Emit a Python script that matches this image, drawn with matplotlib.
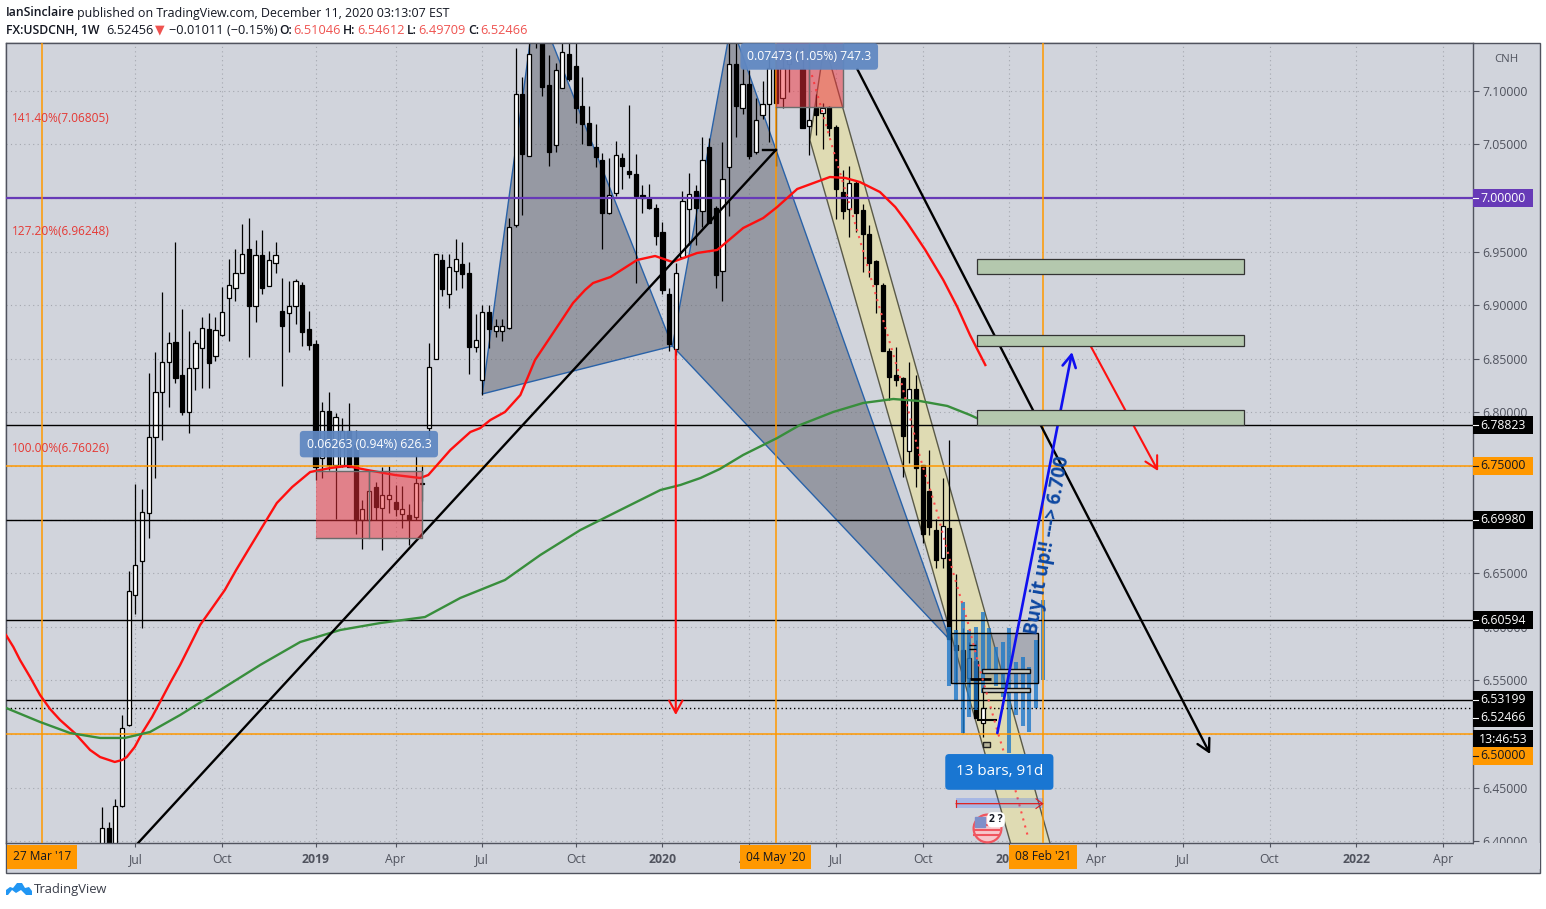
import numpy as np
import matplotlib
matplotlib.use("Agg")
import matplotlib.pyplot as plt
from matplotlib.patches import Rectangle, Polygon
from matplotlib.transforms import blended_transform_factory

plt.rcParams["font.family"] = "Open Sans"

# weekly candles, first one is week 9
first_week = 9
opens = [6.390,6.412,6.390,6.433,6.508,6.630,6.661,6.706,6.777,6.819,
         6.847,6.866,6.835,6.800,6.841,6.860,6.878,6.853,6.872,6.907,
         6.916,6.930,6.952,6.899,6.947,6.918,6.939,6.895,6.893,6.899,
         6.919,6.878,6.864,6.757,6.801,6.751,6.751,6.783,6.770,6.700,
         6.700,6.730,6.711,6.719,6.716,6.705,6.704,6.702,6.734,6.785,
         6.850,6.942,6.910,6.932,6.938,6.930,6.861,6.830,6.894,6.876,
         6.876,6.879,6.975,7.097,7.039,7.190,7.160,7.105,7.049,7.103,
         7.134,7.123,7.086,7.070,7.048,7.035,6.986,7.005,7.037,7.025,
         7.022,7.003,7.000,6.991,6.968,6.910,6.859,6.945,6.990,7.007,
         6.988,7.048,6.991,6.932,7.029,7.125,7.084,7.106,7.043,7.077,
         7.088,7.120,7.093,7.125,7.135,7.120,7.067,7.084,7.079,7.085,
         7.066,7.006,6.990,7.014,6.989,6.966,6.941,6.919,6.857,6.835,
         6.832,6.764,6.822,6.751,6.727,6.690,6.664,6.692,6.583,6.578,
         6.5525,6.568,6.51046]
highs = [6.432,6.418,6.439,6.518,6.652,6.733,6.729,6.837,6.856,6.912,
         6.875,6.959,6.896,6.876,6.868,6.889,6.893,6.889,6.917,6.943,
         6.952,6.976,6.981,6.961,6.970,6.951,6.959,6.925,6.923,6.924,
         6.922,6.895,6.868,6.810,6.819,6.799,6.795,6.809,6.784,6.718,
         6.746,6.735,6.749,6.750,6.732,6.731,6.715,6.760,6.751,6.865,
         6.948,6.948,6.948,6.962,6.959,6.940,6.892,6.900,6.900,6.887,
         6.887,6.981,7.140,7.113,7.160,7.200,7.180,7.133,7.126,7.155,
         7.155,7.155,7.113,7.086,7.069,7.042,7.037,7.053,7.042,7.087,
         7.041,7.012,7.013,6.994,6.978,6.916,6.939,7.007,7.023,7.012,
         7.057,7.056,6.993,7.052,7.155,7.155,7.121,7.119,7.093,7.109,
         7.135,7.140,7.140,7.140,7.140,7.140,7.130,7.097,7.089,7.086,
         7.068,7.026,7.030,7.017,6.994,6.975,6.942,6.921,6.860,6.861,
         6.833,6.847,6.835,6.751,6.765,6.701,6.739,6.774,6.649,6.599,
         6.586,6.588,6.54612]
lows = [6.390,6.390,6.390,6.432,6.507,6.612,6.599,6.683,6.739,6.774,
        6.805,6.827,6.798,6.781,6.821,6.823,6.823,6.848,6.871,6.867,
        6.904,6.930,6.852,6.884,6.910,6.918,6.930,6.825,6.856,6.882,
        6.862,6.858,6.737,6.739,6.746,6.701,6.749,6.749,6.687,6.673,
        6.700,6.700,6.672,6.706,6.703,6.692,6.676,6.700,6.717,6.770,
        6.850,6.909,6.897,6.914,6.916,6.836,6.856,6.816,6.860,6.870,
        6.867,6.878,6.973,6.984,7.039,7.140,7.095,7.030,7.043,7.103,
        7.109,7.070,7.050,7.049,7.029,6.952,6.985,7.002,7.008,7.019,
        6.921,6.986,6.990,6.956,6.910,6.857,6.854,6.945,6.956,6.956,
        6.973,6.977,6.916,6.904,6.983,7.057,7.078,7.036,7.041,7.074,
        7.052,7.030,7.084,7.099,7.130,7.065,7.040,7.059,7.046,7.058,
        6.980,6.980,6.964,6.968,6.931,6.926,6.893,6.857,6.812,6.825,
        6.740,6.753,6.730,6.678,6.686,6.655,6.655,6.589,6.547,6.501,
        6.544,6.515,6.49709]
closes = [6.412,6.390,6.433,6.506,6.633,6.658,6.707,6.777,6.819,6.847,
          6.865,6.832,6.800,6.841,6.865,6.879,6.846,6.877,6.894,6.919,
          6.930,6.948,6.899,6.947,6.916,6.942,6.947,6.881,6.899,6.923,
          6.875,6.863,6.749,6.801,6.751,6.796,6.783,6.749,6.700,6.710,
          6.727,6.712,6.723,6.723,6.710,6.710,6.701,6.734,6.7335,6.842,
          6.948,6.915,6.936,6.943,6.929,6.861,6.868,6.894,6.878,6.881,
          6.881,6.973,7.097,7.041,7.134,7.160,7.104,7.043,7.119,7.136,
          7.111,7.084,7.069,7.049,7.038,6.986,7.003,7.040,7.030,7.022,
          7.002,7.000,6.991,6.965,6.914,6.864,6.930,6.997,7.004,6.991,
          7.035,6.977,6.928,7.018,7.125,7.086,7.106,7.039,7.073,7.088,
          7.121,7.089,7.121,7.130,7.130,7.065,7.073,7.077,7.084,7.065,
          7.008,6.988,7.014,6.986,6.966,6.939,6.920,6.857,6.833,6.830,
          6.778,6.822,6.748,6.687,6.693,6.6625,6.694,6.589,6.578,6.549,
          6.571,6.515,6.52466]

# moving averages
red_x = [-5.4,-4.3,-3.3,-1.8,-0.3,1.2,2.7,4.9,7.2,8.7,10.9,12.0,12.7,13.9,15.1,16.5,17.7,19.2,20.7,22.2,23.7,25.5,
         27.4,29.1,30.9,33.0,35.2,37.5,40.2,43.2,45.7,48.7,52.9,56.7,57.9,61.2,64.2,65.7,67.2,69.4,71.7,73.9,75.9,
         77.7,79.6,81.4,82.6,85.2,89.2,91.9,94.5,98.2,101.2,105.1,108.1,110.2,113.2,118.1,120.4,122.6,125.6,127.9,
         129.7,132.4,135.1,137.2,139.1,141.4]
red_y = [6.5923,6.5812,6.5690,6.5532,6.5364,6.5233,6.5131,6.5009,6.4851,6.4785,6.4739,6.4757,6.4785,6.4879,6.5019,
         6.5159,6.5299,6.5476,6.5644,6.5830,6.6017,6.6175,6.6343,6.6530,6.6716,6.6931,6.7155,6.7304,6.7444,6.7481,
         6.7500,6.7463,6.7416,6.7388,6.7416,6.7649,6.7817,6.7854,6.7929,6.8004,6.8162,6.8489,6.8675,6.8843,6.9021,
         6.9142,6.9207,6.9263,6.9422,6.9459,6.9403,6.9487,6.9515,6.9720,6.9813,6.9916,7.0084,7.0196,7.0187,7.0149,
         7.0056,6.9916,6.9767,6.9515,6.9235,6.8983,6.8722,6.8442]
green_x = [-5.4,-0.3,4.2,8.7,12.4,16.2,20.7,26.7,32.7,38.7,44.7,50.7,57.4,62.7,69.4,74.7,80.7,86.7,92.7,95.7,98.7,
           101.6,105.1,110.2,113.6,118.6,123.1,127.6,131.6,135.7,139.1,141.4]
green_y = [6.5243,6.5112,6.5009,6.4963,6.4963,6.5019,6.5177,6.5410,6.5644,6.5858,6.5970,6.6035,6.6091,6.6269,6.6437,
           6.6670,6.6903,6.7090,6.7276,6.7323,6.7388,6.7472,6.7603,6.7761,6.7882,6.8004,6.8088,6.8125,6.8106,6.8060,
           6.7976,6.7910]
dots_x = [115.4,118.6,121.6,125.2,128.6,131.6,134.2,136.6,138.8,140.6,143.3,145.9,147.8]
dots_y = [7.1147,7.0448,6.9823,6.9049,6.8330,6.7584,6.7062,6.6502,6.6035,6.5597,6.5009,6.4478,6.4039]

# blue bars pattern
pattern_weeks = list(range(136, 151))
pattern_top = [6.6001,6.5970,6.6234,6.5970,6.6001,6.6141,6.5985,6.5808,6.5861,6.5985,6.5674,6.5721,6.5628,6.5877,6.6250]
pattern_bot = [6.5447,6.5317,6.5012,6.5155,6.5223,6.5379,6.5597,6.5447,6.5348,6.4819,6.5177,6.5077,6.5021,6.5239,6.5503]

tick_weeks = [14, 27, 41, 53, 66, 80, 93, 106, 119, 132, 145, 158, 171, 184, 197, 210]
tick_labels = ["Jul", "Oct", "2019", "Apr", "Jul", "Oct", "2020", "Apr", "Jul", "Oct", "2021", "Apr", "Jul", "Oct", "2022", "Apr"]
price_ticks = [6.40, 6.45, 6.50, 6.55, 6.60, 6.65, 6.70, 6.75, 6.80, 6.85, 6.90, 6.95, 7.00, 7.05, 7.10]
# these tick labels sit fully behind a coloured price box
hidden_ticks = [6.50, 6.70, 6.75, 7.00]

black_levels = [6.78823, 6.69980, 6.60594, 6.53199]
orange_levels = [6.75, 6.50]
orange_weeks = [0, 110, 150]
zone_weeks = (140.2, 180.1)
zones = [(6.9291, 6.9431), (6.8619, 6.8722), (6.7882, 6.8022)]

# (text, centre price, box colour, text colour)
price_labels = [("7.00000", 7.0, "#673ab7", "#ffffff"),
                ("6.78823", 6.78823, "#000000", "#ffffff"),
                ("6.75000", 6.75, "#ff9800", "#131722"),
                ("6.69980", 6.6998, "#000000", "#ffffff"),
                ("6.60594", 6.60594, "#000000", "#ffffff"),
                ("6.53199", 6.53199, "#000000", "#ffffff"),
                ("6.52466", 6.5150, "#000000", "#ffffff"),
                ("13:46:53", 6.4953, "#000000", "#ffffff"),
                ("6.50000", 6.4795, "#ff9800", "#131722")]
date_labels = [(0, "27 Mar '17"), (110, "04 May '20"), (150, "08 Feb '21")]
fib_labels = [("141.40%(7.06805)", 7.06805), ("127.20%(6.96248)", 6.96248), ("100.00%(6.76026)", 6.76026)]

W, H = 1546, 909
PANEL = "#d1d4dc"
TEXT = "#50535e"

fig = plt.figure(figsize=(W / 100, H / 100), dpi=100, facecolor="white")
ax = fig.add_axes([6 / W, (H - 843) / H, 1467 / W, 800 / H])


def fx(x):
    return x / W


def fy(y):
    return 1 - y / H


# outer frame with time and price bands
fig.patches.append(Rectangle((fx(6), fy(873)), 1534 / W, 830 / H, transform=fig.transFigure,
                             fc=PANEL, ec=TEXT, lw=1, zorder=-5))

ax.set_facecolor(PANEL)
ax.set_xlim(-5.4, 214.5)
ax.set_ylim(6.3983, 7.1446)
ax.set_xticks(tick_weeks)
ax.set_xticklabels(tick_labels)
ax.yaxis.tick_right()
ax.set_yticks(price_ticks)
ax.set_yticklabels(["" if p in hidden_ticks else "%.5f" % p for p in price_ticks])
ax.tick_params(axis="x", length=3, color=TEXT, labelcolor=TEXT, labelsize=8.8, pad=4, width=0.8)
ax.tick_params(axis="y", length=4, color=TEXT, labelcolor=TEXT, labelsize=8.8, pad=2.5, width=0.8)
for lab in ax.get_xticklabels():
    if lab.get_text().startswith("20"):
        lab.set_fontweight("bold")
ax.grid(True, color="#a4a7af", lw=0.8, ls=(0, (1, 3)))
ax.set_axisbelow(True)
for s in ax.spines.values():
    s.set_color(TEXT)
    s.set_linewidth(1)

# harmonic pattern triangles
pat_x = [66, 74, 94.5, 103.3, 136.1]
pat_y = [6.8172, 7.1838, 6.8619, 7.1628, 6.5877]
for i in [0, 2]:
    tri = list(zip(pat_x[i:i + 3], pat_y[i:i + 3]))
    ax.add_patch(Polygon(tri, closed=True, fc="#5d606b", alpha=0.5, ec="none", zorder=1))
    ax.add_patch(Polygon(tri, closed=True, fc="none", ec="#2962a8", lw=1, zorder=1.2))

# parallel channel
channel = [(115.1, 7.0541), (117.3, 7.1446), (151.8, 6.3825), (145.9, 6.3825)]
ax.add_patch(Polygon(channel, closed=True, fc="#dfdbb3", ec="#5a5a48", lw=1, zorder=1.3))

# candles
weeks = np.arange(first_week, first_week + len(opens))
opens = np.array(opens)
highs = np.array(highs)
lows = np.array(lows)
closes = np.array(closes)
colors = ["#ffffff" if c >= o else "#000000" for o, c in zip(opens, closes)]
ax.vlines(weeks, lows, highs, color="black", lw=0.9, zorder=2)
ax.bar(weeks, np.maximum(np.abs(closes - opens), 0.0006), bottom=np.minimum(opens, closes), width=0.62,
       color=colors, edgecolor="black", lw=0.9, zorder=2.2)

# bars pattern and the box over it
ax.add_patch(Rectangle((136.3, 6.5476), 13, 0.0466, fc="#5d606b", alpha=0.35, ec="none", zorder=2.3))
ax.vlines(pattern_weeks, pattern_bot, pattern_top, color="#1e78c8", alpha=0.8, lw=2.9, zorder=2.4)
ax.add_patch(Rectangle((136.3, 6.5476), 13, 0.0466, fc="none", ec="black", lw=1, zorder=2.6))
for p in [6.5569, 6.5392]:
    ax.add_patch(Rectangle((140.9, p), 7.2, 0.0037, fc="#c8cbc4", ec="#111111", lw=1, zorder=2.6))
ax.hlines(6.5513, 139.1, 142.3, color="black", lw=2, zorder=2.6)
ax.hlines(6.5131, 140.2, 143.2, color="black", lw=1.5, zorder=2.6)
ax.hlines([6.5830, 6.5790], 139.0, 140.0, color="black", lw=1, zorder=2.6)
ax.add_patch(Rectangle((141.0, 6.4879), 1.1, 0.0046, fc="#b8b49a", ec="#222222", lw=1, zorder=2.6))

# horizontal and vertical levels
ax.axhline(7.0, color="#673ab7", lw=1.6, zorder=3)
ax.hlines(black_levels, -5.4, 214.5, color="black", lw=1, zorder=3)
ax.hlines(6.52466, -5.4, 214.5, color="black", lw=1, ls=(0, (1, 2)), zorder=3)
ax.hlines(orange_levels, -5.4, 214.5, color="#ff9800", lw=1.1, zorder=3)
ax.vlines(orange_weeks, 6.3983, 7.1446, color="#ff9800", lw=1.1, zorder=3)

# moving averages
ax.plot(red_x, red_y, color="#ff0f0f", lw=1.7, zorder=4, solid_joinstyle="round")
ax.plot(green_x, green_y, color="#388e3c", lw=1.7, zorder=4, solid_joinstyle="round")
ax.plot(dots_x, dots_y, color="#ff4d4d", lw=1.5, ls=(0, (1, 2.5)), zorder=4)

# trend lines and arrows
ax.plot([14.4, 110], [6.3983, 7.0448], color="black", lw=1.7, zorder=4.2)
ax.plot([108, 110], [7.0448, 7.0448], color="black", lw=1.7, zorder=4.2)


def arrow(x0, y0, x1, y1, col, lw=1.5, ms=16):
    ax.annotate("", xy=(x1, y1), xytext=(x0, y0), zorder=4.4,
                arrowprops=dict(arrowstyle="->,head_length=0.55,head_width=0.3", color=col, lw=lw,
                                shrinkA=0, shrinkB=0, mutation_scale=ms))


arrow(122.2, 7.1203, 175.1, 6.4813, "black", lw=1.7)
arrow(95, 6.8582, 95, 6.5177, "#ff1010")
arrow(157.1, 6.8629, 167.3, 6.7453, "#ff1010")
arrow(143.2, 6.5009, 154.4, 6.8563, "#1010f0", lw=1.9)

# supply/demand zones
for lo, hi in zones:
    ax.add_patch(Rectangle((zone_weeks[0], lo), zone_weeks[1] - zone_weeks[0], hi - lo,
                           fc="#b4c8ae", ec="#333333", lw=0.9, zorder=4.5))

# price range measures
for x0, x1, lo, hi, mid in [(41, 57, 6.6828, 6.7453, 49), (110, 120, 7.0849, 7.16, 115)]:
    ax.add_patch(Rectangle((x0, lo), x1 - x0, hi - lo, fc="#f2303a", alpha=0.5, ec="none", zorder=5))
    ax.plot([x0, x1, x1, x0], [hi, hi, lo, lo], color="#6b6b6b", lw=1, zorder=5)
    ax.plot([mid, mid], [lo, hi], color="#6b6b6b", lw=1, zorder=5)


def label(x, y, s, col):
    ax.text(x, y, s, color="white", fontsize=8.8, ha="center", va="center", zorder=7,
            bbox=dict(boxstyle="round,pad=0.55,rounding_size=0.3", fc=col, ec="none", alpha=0.95))


label(49, 6.7704, "0.06263 (0.94%) 626.3", "#6088c2")
label(115, 7.1320, "0.07473 (1.05%) 747.3", "#6088c2")

ax.text(143.5, 6.4646, "13 bars, 91d", color="white", fontsize=11, ha="center", va="center", zorder=7,
        bbox=dict(boxstyle="round,pad=0.68,rounding_size=0.25", fc="#1976d2", ec="none"))

# date range tool
ax.add_patch(Rectangle((137, 6.4310), 13, 0.0093, fc="#2962ff", alpha=0.25, ec="none", zorder=5))
ax.annotate("", xy=(150, 6.4350), xytext=(137, 6.4350), zorder=5.2,
            arrowprops=dict(arrowstyle="|-|,widthA=0.25,widthB=0", color="#e02020", lw=0.9, shrinkA=0, shrinkB=0))
ax.plot([149, 150, 149], [6.4395, 6.4350, 6.4305], color="#e02020", lw=0.8, zorder=5.2)

# earnings style flag
ax.plot([141.6], [6.4123], marker="o", ms=20, mfc="#f7c7cb", mec="#f0555f", mew=1.6, zorder=6)
ax.hlines([6.4060, 6.4150, 6.4105], 139.6, 143.6, color="#f0555f", lw=1.5, zorder=6.1)
ax.plot([140.6], [6.4175], marker="s", ms=6.5, color="#7f8fc9", zorder=6.2)
ax.text(143.0, 6.4200, "2 ?", fontsize=7.5, ha="center", va="center", color="#131722", fontweight="bold", zorder=6.4,
        bbox=dict(boxstyle="round,pad=0.2,rounding_size=0.5", fc="white", ec="none"))

ax.text(150.7, 6.6763, "Buy it up!! ---> 6.700", color="#0d47a1", fontsize=13.5, fontweight="bold",
        rotation=80, rotation_mode="anchor", ha="center", va="center", zorder=6)

for s, p in fib_labels:
    ax.text(-4.5, p + 0.0065, s, color="#e53935", fontsize=8.6, ha="left", va="center", zorder=6)

# price scale boxes
trans = blended_transform_factory(ax.transAxes, ax.transData)
for s, p, bg, fg in price_labels:
    ax.add_patch(Rectangle((1.0, p - 0.0084), 60 / 1467, 0.0168, transform=trans, fc=bg, ec="none",
                           clip_on=False, zorder=8))
    if s != "13:46:53":
        ax.plot([1.0, 1.0035], [p, p], transform=trans, color=fg, lw=0.8, clip_on=False, zorder=8.2)
    ax.text(1 + 30 / 1467, p, s, transform=trans, color=fg, fontsize=8.8, ha="center", va="center",
            clip_on=False, zorder=8.4)
ax.text(1 + 33 / 1467, 7.1290, "CNH", transform=trans, color=TEXT, fontsize=8.2, ha="center", va="center")
# covers the part of the lowest tick label that falls in the time band
ax.add_patch(Rectangle((1.0004, 6.3983), 66 / 1467, -0.024, transform=trans, fc=PANEL, ec="none",
                       clip_on=False, zorder=8))

# orange date labels on the time band
tb = blended_transform_factory(ax.transData, ax.transAxes)
for wk, s in date_labels:
    ax.text(wk, -14 / 800, s, transform=tb, color="#131722", fontsize=8.6, ha="center", va="center", zorder=9,
            clip_on=False, bbox=dict(boxstyle="square,pad=0.48", fc="#ff9800", ec="none"))


# header
def head(x, y, s, col="#131722", weight="normal", size=9.4, family="Open Sans"):
    fig.text(fx(x), fy(y), s, color=col, fontsize=size, fontweight=weight, family=family, ha="left", va="center")


RED = "#ef5350"
head(6, 13, "IanSinclaire", weight="semibold", size=8.8)
head(77, 13, "published on TradingView.com, December 11, 2020 03:13:07 EST", size=8.9)
head(6, 30, "FX:USDCNH, 1W", weight="semibold", size=8.8)
head(106, 30, "6.52456", size=9.2)
head(155, 30, "\u25bc", col=RED, size=9, family="DejaVu Sans")
head(169, 30, "\u22120.01011 (\u22120.15%)", size=9.2)
for x, s in [(279, "O:"), (343, "H:"), (407, "L:"), (468, "C:")]:
    head(x, 30, s, weight="semibold", size=8.8)
for x, s in [(293, "6.51046"), (357, "6.54612"), (418, "6.49709"), (480, "6.52466")]:
    head(x, 30, s, col=RED, size=9.2)

# footer logo
cloud = [(6, 895), (6, 890), (10, 887), (13, 888), (17, 883), (22, 883), (25, 888), (29, 887), (32, 891), (32, 895),
         (26, 895), (21, 890), (16, 893), (12, 890), (8, 895)]
fig.patches.append(Polygon([(fx(a), fy(b)) for a, b in cloud], closed=True, transform=fig.transFigure,
                           fc="#2196f3", ec="none"))
head(34, 890, "TradingView", col="#3a3e4a", size=9.4)

fig.savefig("out.png", dpi=100)
